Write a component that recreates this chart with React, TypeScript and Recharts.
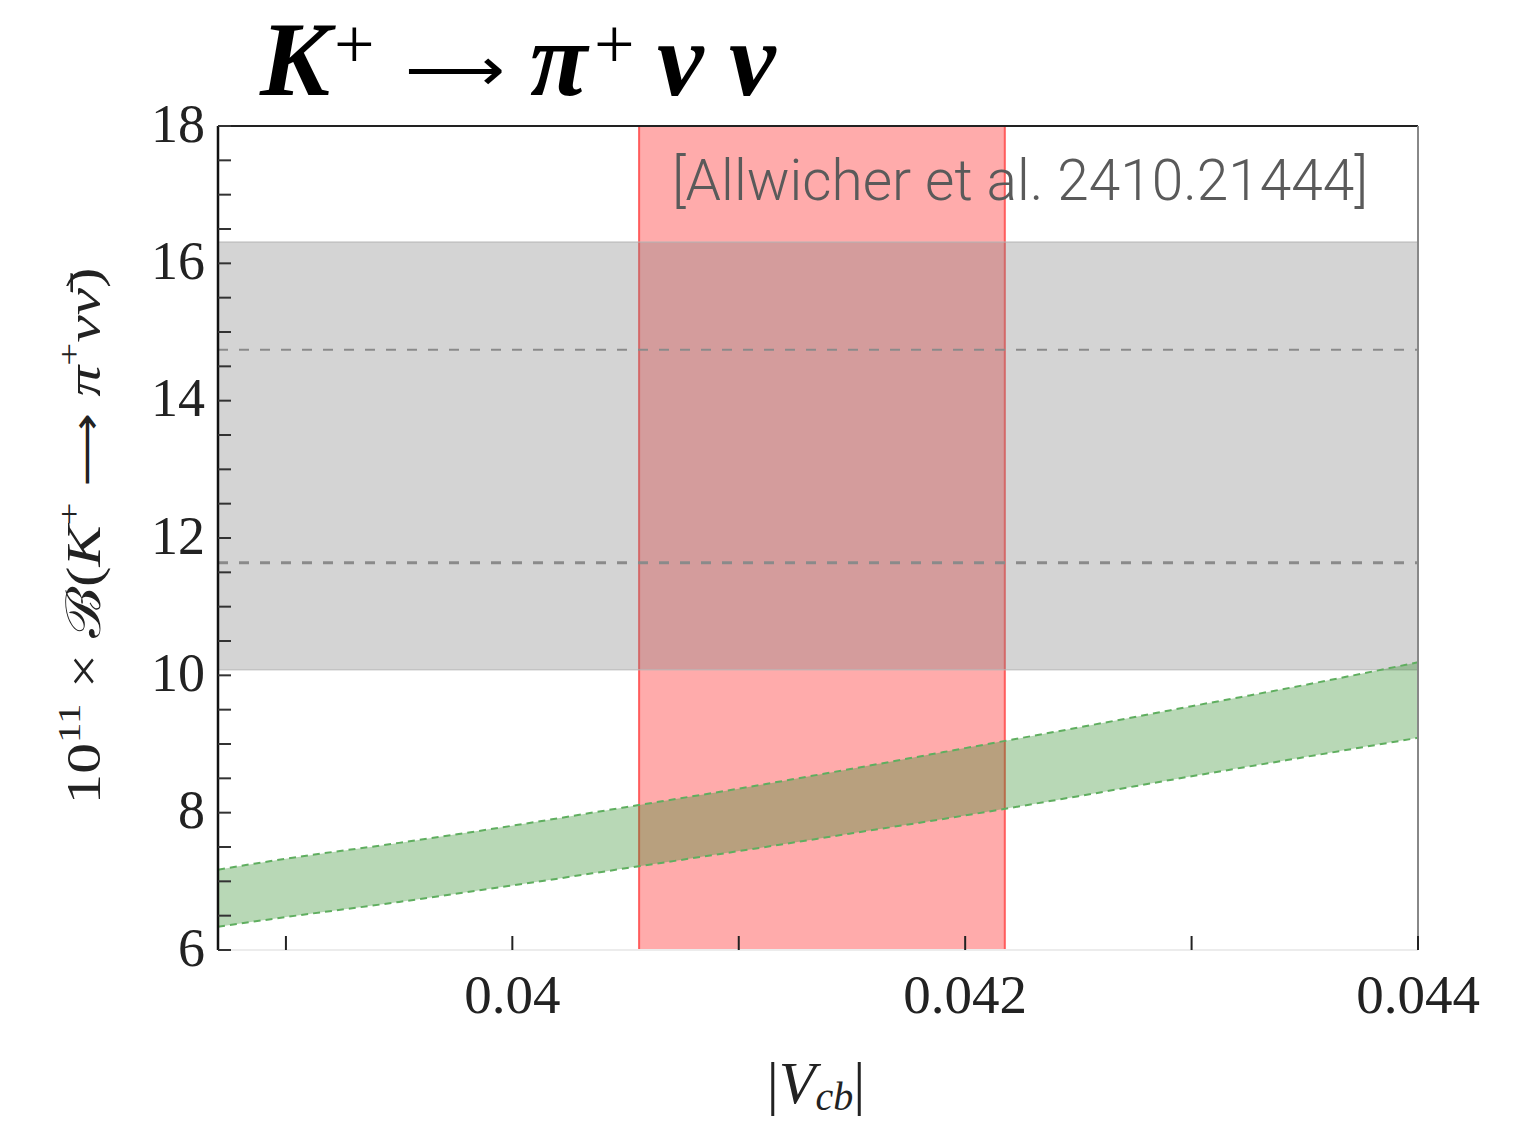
import React from 'react';
import {
  ComposedChart,
  Area,
  XAxis,
  YAxis,
  ReferenceArea,
  ReferenceLine,
  Customized,
} from 'recharts';

// |Vcb| sample points
const vcbValues = [0.0387, 0.039, 0.0395, 0.04, 0.0405, 0.041, 0.0415, 0.042, 0.0425, 0.043, 0.0435, 0.044];
// SM prediction band (green), lower and upper edges
const smLower = [6.34, 6.48, 6.7, 6.94, 7.19, 7.44, 7.7, 7.96, 8.24, 8.53, 8.81, 9.09];
const smUpper = [7.17, 7.33, 7.56, 7.81, 8.08, 8.35, 8.64, 8.94, 9.24, 9.55, 9.86, 10.19];

// experimental band (grey)
const expBand = [10.08, 16.31];
const expDashed = [14.74, 11.64];
// Vcb band (red)
const vcbBand = [0.04056, 0.042175];

const xDomain = [0.0387, 0.044];
const yDomain = [6, 18];
const xTicks = [0.039, 0.04, 0.041, 0.042, 0.043, 0.044];
const xTickLabels: Record<string, string> = { '0.04': '0.04', '0.042': '0.042', '0.044': '0.044' };
const yTicks = [6, 6.5, 7, 7.5, 8, 8.5, 9, 9.5, 10, 10.5, 11, 11.5, 12, 12.5, 13, 13.5, 14, 14.5, 15, 15.5, 16, 16.5, 17, 17.5, 18];
const yTickLabels: Record<string, string> = { '6': '6', '8': '8', '10': '10', '12': '12', '14': '14', '16': '16', '18': '18' };

const titleText = { k: 'K', plus: '+', arrow: '⟶', pi: 'π', nu: 'ν' };
const citation = '[Allwicher et al. 2410.21444]';

const rows = vcbValues.map((x, i) => ({ x, band: [smLower[i], smUpper[i]] }));

const SERIF = '"Liberation Serif", "Times New Roman", serif';

const XTick = (props: any) => {
  const { x, y, payload } = props;
  const key = String(Number(payload.value.toFixed(4)));
  const label = xTickLabels[key];
  return (
    <g>
      <line x1={x} x2={x} y1={y} y2={y - 14} stroke="#222" strokeWidth={2} />
      {label && (
        <text x={x} y={y + 63} textAnchor="middle" fontFamily={SERIF} fontSize={55} fill="#222">
          {label}
        </text>
      )}
    </g>
  );
};

const YTick = (props: any) => {
  const { x, y, payload } = props;
  const key = String(payload.value);
  const label = yTickLabels[key];
  return (
    <g>
      <line x1={x} x2={x + 13} y1={y} y2={y} stroke="#333" strokeWidth={2} />
      {label && (
        <text x={x - 13} y={y} dy="0.29em" textAnchor="end" fontFamily={SERIF} fontSize={54} fill="#222">
          {label}
        </text>
      )}
    </g>
  );
};

const Texts = () => (
  <g>
    {/* Title */}
    <text x={260} y={95} fontFamily={SERIF} fontSize={105} fontWeight="bold" fontStyle="italic" fill="#000">
      {titleText.k}
    </text>
    <text x={334} y={68} fontFamily={SERIF} fontSize={72} fill="#000">
      {titleText.plus}
    </text>
    <text
      x={405}
      y={90}
      fontFamily='"DejaVu Sans", sans-serif'
      fontSize={60}
      fill="#000"
      textLength={100}
      lengthAdjust="spacingAndGlyphs"
    >
      {titleText.arrow}
    </text>
    <text x={530} y={95} fontFamily={SERIF} fontSize={105} fontWeight="bold" fontStyle="italic" fill="#000">
      {titleText.pi}
    </text>
    <text x={594} y={68} fontFamily={SERIF} fontSize={72} fill="#000">
      {titleText.plus}
    </text>
    <text x={657} y={95} fontFamily={SERIF} fontSize={105} fontWeight="bold" fontStyle="italic" fill="#000">
      {titleText.nu}
    </text>
    <text x={729} y={95} fontFamily={SERIF} fontSize={105} fontWeight="bold" fontStyle="italic" fill="#000">
      {titleText.nu}
    </text>
    {/* Y axis label */}
    <text
      x={100}
      y={536}
      transform="rotate(-90 100 536)"
      textAnchor="middle"
      fontFamily={SERIF}
      fontSize={48}
      fill="#222"
      textLength={537}
      lengthAdjust="spacingAndGlyphs"
    >
      <tspan>10</tspan>
      <tspan fontSize={32} dy={-20}>11</tspan>
      <tspan dy={20}> × ℬ(</tspan>
      <tspan fontStyle="italic">K</tspan>
      <tspan fontSize={32} dy={-20}>+</tspan>
      <tspan dy={20} fontFamily='"DejaVu Sans", sans-serif' fontSize={40}> ⟶ </tspan>
      <tspan fontStyle="italic">π</tspan>
      <tspan fontSize={32} dy={-20}>+</tspan>
      <tspan fontStyle="italic" dy={20}>νν̄</tspan>
      <tspan>)</tspan>
    </text>
    {/* X axis label */}
    <text x={816} y={1103} textAnchor="middle" fontFamily={SERIF} fontSize={60} fill="#222">
      <tspan>|</tspan>
      <tspan fontStyle="italic">V</tspan>
      <tspan fontStyle="italic" fontSize={40} dy={7}>cb</tspan>
      <tspan dy={-7}>|</tspan>
    </text>
  </g>
);

export default function App() {
  return (
    <div style={{ position: 'absolute', left: 0, top: 0, width: 1527, height: 1122, background: '#fff' }}>
      <ComposedChart
        width={1527}
        height={1122}
        data={rows}
        margin={{ top: 126, right: 109, bottom: 72, left: 0 }}
      >
        <XAxis
          type="number"
          dataKey="x"
          domain={xDomain}
          ticks={xTicks}
          interval={0}
          allowDataOverflow
          height={100}
          axisLine={{ stroke: '#ececec', strokeWidth: 2 }}
          tickLine={false}
          tickSize={0}
          tickMargin={0}
          tick={<XTick />}
        />
        <YAxis
          type="number"
          domain={yDomain}
          ticks={yTicks}
          interval={0}
          allowDataOverflow
          width={218}
          axisLine={{ stroke: '#111', strokeWidth: 2.5 }}
          tickLine={false}
          tickSize={0}
          tickMargin={0}
          tick={<YTick />}
        />
        <ReferenceArea
          x1={vcbBand[0]}
          x2={vcbBand[1]}
          fill="#ff0000"
          fillOpacity={0.33}
          stroke="#ff5c5c"
          strokeWidth={2}
          strokeOpacity={1}
        />
        <ReferenceArea
          y1={expBand[0]}
          y2={expBand[1]}
          fill="#808080"
          fillOpacity={0.34}
          stroke="#b5b5b5"
          strokeWidth={1}
        />
        <ReferenceLine y={expDashed[0]} stroke="#8a8a8a" strokeWidth={2} strokeDasharray="10 11" />
        <ReferenceLine y={expDashed[1]} stroke="#8a8a8a" strokeWidth={3} strokeDasharray="10 11" />
        <Area
          dataKey="band"
          type="monotone"
          fill="rgb(46,140,41)"
          fillOpacity={0.34}
          stroke="#5fae5f"
          strokeWidth={2}
          strokeDasharray="7 5"
          isAnimationActive={false}
          dot={false}
          activeDot={false}
        />
        <ReferenceLine y={yDomain[1]} stroke="#222" strokeWidth={2} />
        <ReferenceLine x={xDomain[1]} stroke="#888" strokeWidth={2} />
        <Customized component={Texts} />
      </ComposedChart>
      <svg
        width={1527}
        height={1122}
        style={{ position: 'absolute', left: 0, top: 0, pointerEvents: 'none' }}
      >
        <text
          x={672}
          y={200}
          fontFamily='Roboto, "Noto Sans", sans-serif'
          fontWeight={300}
          fontSize={57}
          fill="#5a5a5a"
          textLength={696}
          lengthAdjust="spacingAndGlyphs"
        >
          {citation}
        </text>
      </svg>
    </div>
  );
}
